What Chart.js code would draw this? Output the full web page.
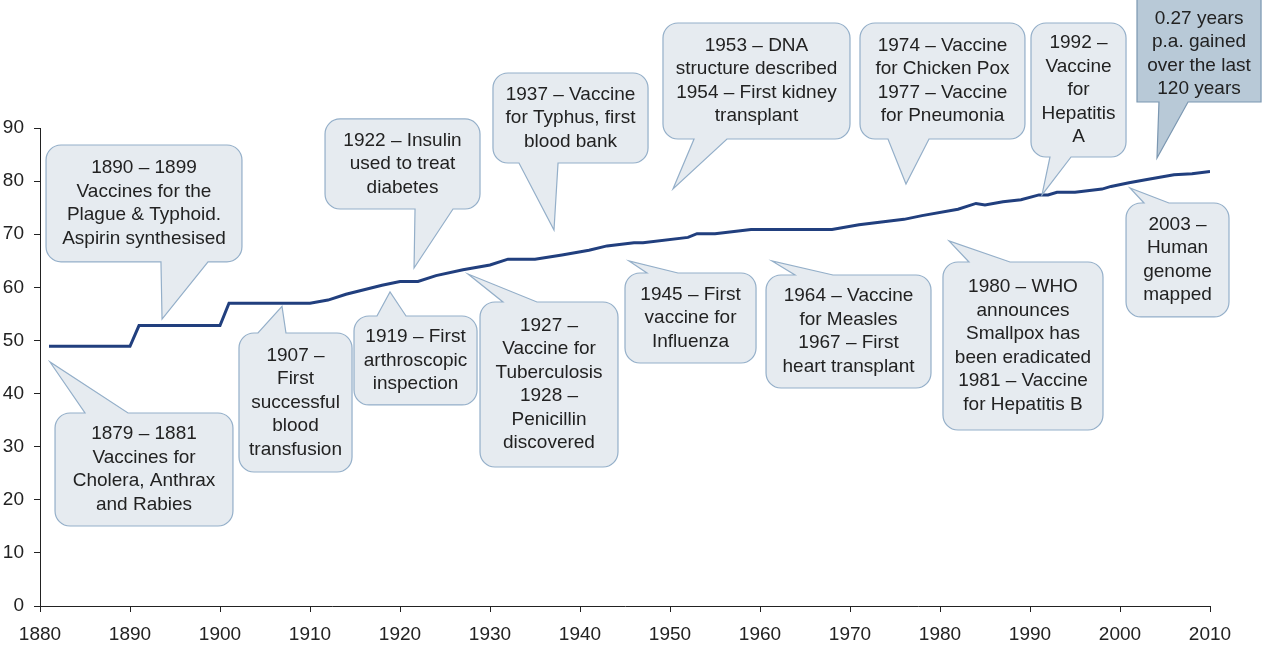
<!DOCTYPE html>
<html>
<head>
<meta charset="utf-8">
<title>Life expectancy and medical milestones</title>
<script src="https://cdn.jsdelivr.net/npm/chart.js@4.4.1/dist/chart.umd.min.js"></script>
<style>
  html, body { margin: 0; padding: 0; background: #ffffff; }
  canvas { display: block; }
</style>
</head>
<body>
<canvas id="lifeChart" width="1263" height="652"></canvas>
<script>
// Esperanza de vida (años)
const years = [1881, 1890, 1891, 1900, 1901, 1910, 1912, 1914, 1918, 1920, 1922, 1924, 1927, 1930, 1932,
  1935, 1938, 1941, 1943, 1946, 1947, 1952, 1953, 1955, 1959, 1968, 1971, 1976, 1978, 1982,
  1984, 1985, 1987, 1989, 1991, 1992, 1993, 1995, 1998, 1999, 2001, 2003, 2006, 2008, 2010];
const lifeExpectancy = [48.9, 48.9, 52.8, 52.8, 57.0, 57.0, 57.6, 58.7, 60.4, 61.1, 61.1, 62.2, 63.3, 64.2, 65.3,
  65.3, 66.1, 67.0, 67.8, 68.4, 68.4, 69.4, 70.1, 70.1, 70.9, 70.9, 71.8, 72.8, 73.5, 74.7,
  75.8, 75.5, 76.1, 76.5, 77.4, 77.4, 77.9, 77.9, 78.5, 79.0, 79.7, 80.3, 81.2, 81.4, 81.8];

const xMin = 1880, xMax = 2010, xStep = 10;
const yMin = 0, yMax = 90, yStep = 10;

// Textos de los bocadillos
const calloutText = [
  '1890 – 1899\nVaccines for the\nPlague & Typhoid.\nAspirin synthesised',
  '1879 – 1881\nVaccines for\nCholera, Anthrax\nand Rabies',
  '1907 –\nFirst\nsuccessful\nblood\ntransfusion',
  '1922 – Insulin\nused to treat\ndiabetes',
  '1919 – First\narthroscopic\ninspection',
  '1927 –\nVaccine for\nTuberculosis\n1928 –\nPenicillin\ndiscovered',
  '1937 – Vaccine\nfor Typhus, first\nblood bank',
  '1945 – First\nvaccine for\nInfluenza',
  '1964 – Vaccine\nfor Measles\n1967 – First\nheart transplant',
  '1953 – DNA\nstructure described\n1954 – First kidney\ntransplant',
  '1974 – Vaccine\nfor Chicken Pox\n1977 – Vaccine\nfor Pneumonia',
  '1980 – WHO\nannounces\nSmallpox has\nbeen eradicated\n1981 – Vaccine\nfor Hepatitis B',
  '1992 –\nVaccine\nfor\nHepatitis\nA',
  '2003 –\nHuman\ngenome\nmapped',
  '0.27 years\np.a. gained\nover the last\n120 years'
];

// Colocación de los bocadillos en unidades del gráfico (año, valor)
// box: [x0, x1, yTop, yBottom], base: [x0, x1] de la punta, tip: [x, y]
const calloutLayout = [
  { box: [1880.67, 1902.44, 86.8, 64.8], base: [1893.44, 1898.67], tip: [1893.56, 54.0] },
  { box: [1881.67, 1901.44, 36.34, 15.06], base: [1885.0, 1889.78], tip: [1881.11, 45.94] },
  { box: [1902.11, 1914.67, 51.4, 25.23], base: [1904.22, 1907.33], tip: [1906.89, 56.4] },
  { box: [1911.67, 1928.89, 91.7, 74.75], base: [1921.67, 1925.89], tip: [1921.56, 63.64] },
  { box: [1914.89, 1928.56, 54.6, 37.85], base: [1917.44, 1920.67], tip: [1918.89, 59.12] },
  { box: [1928.89, 1944.22, 57.24, 26.17], base: [1931.44, 1935.22], tip: [1927.56, 62.51] },
  { box: [1930.33, 1947.56, 100.36, 83.41], base: [1933.22, 1937.56], tip: [1937.11, 70.8] },
  { box: [1945.0, 1959.56, 62.7, 45.75], base: [1947.44, 1950.89], tip: [1945.44, 64.96] },
  { box: [1960.67, 1979.0, 62.32, 41.05], base: [1963.89, 1968.11], tip: [1961.33, 64.96] },
  { box: [1949.22, 1970.0, 109.77, 87.93], base: [1952.67, 1956.33], tip: [1950.33, 78.52] },
  { box: [1971.11, 1989.44, 109.77, 87.93], base: [1974.22, 1978.78], tip: [1976.22, 79.46] },
  { box: [1980.33, 1998.11, 64.77, 33.14], base: [1983.22, 1987.78], tip: [1981.0, 68.73] },
  { box: [1990.11, 2000.67, 109.77, 84.54], base: [1992.22, 1994.56], tip: [1991.33, 77.39] },
  { box: [2000.67, 2012.11, 75.88, 54.42], base: [2002.67, 2005.44], tip: [2001.11, 78.7] },
  { box: [2001.89, 2015.67, 114.67, 94.9], base: [2004.33, 2007.56], tip: [2004.11, 84.35], dark: true, dy: 4.5 }
];

const fontFamily = '"Liberation Sans", Arial, sans-serif';
const textColor = '#222222';

const calloutPlugin = {
  id: 'callouts',
  afterDraw(chart) {
    const ctx = chart.ctx;
    const xs = chart.scales.x, ys = chart.scales.y;
    ctx.save();
    calloutLayout.forEach(function(c, i) {
      const L = xs.getPixelForValue(c.box[0]), R = xs.getPixelForValue(c.box[1]);
      const T = ys.getPixelForValue(c.box[2]), B = ys.getPixelForValue(c.box[3]);
      const b0 = xs.getPixelForValue(c.base[0]), b1 = xs.getPixelForValue(c.base[1]);
      const tx = xs.getPixelForValue(c.tip[0]), ty = ys.getPixelForValue(c.tip[1]);
      const onTop = ty < T;
      const r = c.dark ? 0 : 15;

      ctx.beginPath();
      ctx.moveTo(L + r, T);
      if (onTop) { ctx.lineTo(b0, T); ctx.lineTo(tx, ty); ctx.lineTo(b1, T); }
      ctx.lineTo(R - r, T);
      ctx.arcTo(R, T, R, T + r, r);
      ctx.lineTo(R, B - r);
      ctx.arcTo(R, B, R - r, B, r);
      if (!onTop) { ctx.lineTo(b1, B); ctx.lineTo(tx, ty); ctx.lineTo(b0, B); }
      ctx.lineTo(L + r, B);
      ctx.arcTo(L, B, L, B - r, r);
      ctx.lineTo(L, T + r);
      ctx.arcTo(L, T, L + r, T, r);
      ctx.closePath();
      ctx.fillStyle = c.dark ? '#b8c9d7' : '#e6ebf0';
      ctx.fill();
      ctx.lineWidth = 1.2;
      ctx.strokeStyle = c.dark ? '#7b97b1' : '#94afc9';
      ctx.stroke();

      // Texto centrado
      const lines = calloutText[i].split('\n');
      const lineH = 23.5;
      const cx = (L + R) / 2, cy = (T + B) / 2 + (c.dy || 0);
      ctx.fillStyle = textColor;
      ctx.font = '19px ' + fontFamily;
      ctx.textAlign = 'center';
      ctx.textBaseline = 'middle';
      lines.forEach(function(line, k) {
        ctx.fillText(line, cx, cy + (k - (lines.length - 1) / 2) * lineH);
      });
    });
    ctx.restore();
  }
};

const points = years.map(function(y, i) { return { x: y, y: lifeExpectancy[i] }; });

const axisGrid = {
  display: true,
  drawOnChartArea: false,
  drawTicks: true,
  tickLength: 6,
  color: '#222222',
  lineWidth: 1
};

new Chart(document.getElementById('lifeChart').getContext('2d'), {
  type: 'line',
  data: {
    datasets: [{
      label: 'Life expectancy',
      data: points,
      borderColor: '#213f7e',
      borderWidth: 3,
      pointRadius: 0,
      tension: 0,
      fill: false
    }]
  },
  options: {
    responsive: false,
    devicePixelRatio: 1,
    animation: false,
    layout: { padding: { top: 128, right: 53, left: 0, bottom: 0 } },
    plugins: {
      legend: { display: false },
      tooltip: { enabled: false }
    },
    scales: {
      x: {
        type: 'linear',
        min: xMin,
        max: xMax,
        grid: axisGrid,
        border: { display: true, color: '#222222', width: 1 },
        ticks: {
          stepSize: xStep,
          color: textColor,
          font: { family: fontFamily, size: 19 },
          padding: 11,
          maxRotation: 0,
          callback: function(v) { return String(v); }
        },
        afterFit: function(scale) { scale.height = 46; }
      },
      y: {
        min: yMin,
        max: yMax,
        grid: axisGrid,
        border: { display: true, color: '#222222', width: 1 },
        ticks: {
          stepSize: yStep,
          color: textColor,
          font: { family: fontFamily, size: 19 },
          padding: 10
        },
        afterFit: function(scale) { scale.width = 40; }
      }
    }
  },
  plugins: [calloutPlugin]
});
</script>
</body>
</html>
